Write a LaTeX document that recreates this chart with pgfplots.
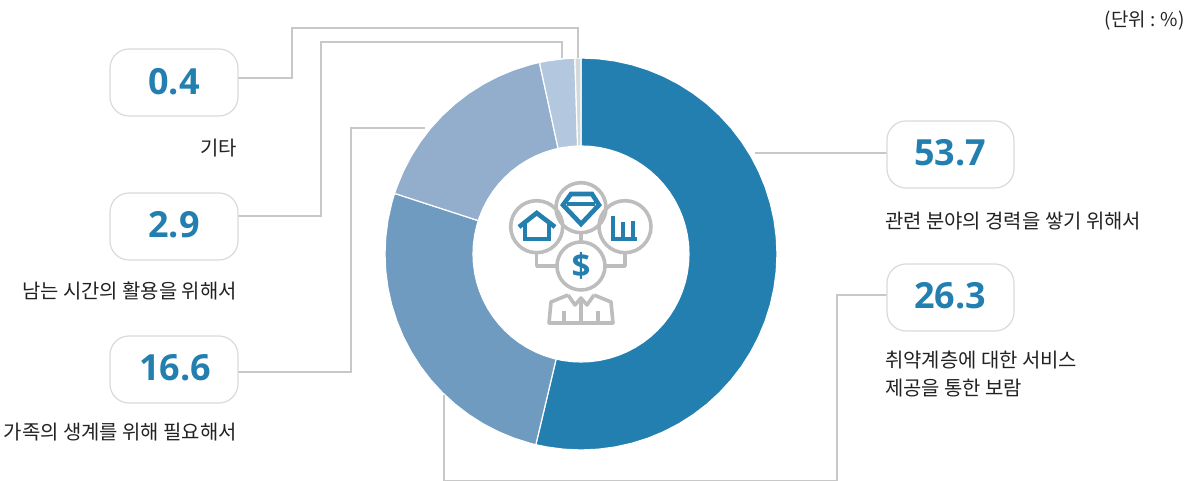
\documentclass[border=0pt]{standalone}
\usepackage{pgfplots}
\pgfplotsset{compat=1.18}
\usepackage{fontspec}
\setmainfont{Noto Sans CJK KR}
\newfontfamily\numfont{Open Sans}
\definecolor{c1}{HTML}{237FB0}
\definecolor{c2}{HTML}{6F9BC1}
\definecolor{c3}{HTML}{92AECC}
\definecolor{c4}{HTML}{B3C7DE}
\definecolor{c5}{HTML}{D5D8D8}
\definecolor{leader}{HTML}{C8C8C8}
\definecolor{boxline}{HTML}{DADADA}
\definecolor{icong}{HTML}{BDBDBD}
\definecolor{txt}{HTML}{222222}
\newcommand{\lab}[1]{{\fontsize{19.9bp}{28bp}\selectfont\color{txt}#1}}
\newcommand{\val}[1]{{\numfont\bfseries\fontsize{36bp}{40bp}\selectfont\color{c1}#1}}
\begin{document}
\begin{tikzpicture}[x=1bp,y=1bp]
\useasboundingbox (0,0) rectangle (1195,481);
\begin{axis}[at={(0,0)},anchor=south west,scale only axis,width=1195bp,height=481bp,
  xmin=-581,xmax=614,ymin=-227,ymax=254,hide axis,clip=false]
% Donut: angle (deg), radius. Shares 53.7, 26.3, 16.6, 2.9, 0.4 clockwise from the top.
\addplot[data cs=polar,fill=c1,draw=white,line width=1.2bp] coordinates {
(90,196)(85,196)(80,196)(75,196)(70,196)(65,196)(60,196)(55,196)(50,196)(45,196)(40,196)(35,196)(30,196)(25,196)(20,196)(15,196)(10,196)(5,196)(0,196)
(-5,196)(-10,196)(-15,196)(-20,196)(-25,196)(-30,196)(-35,196)(-40,196)(-45,196)(-50,196)(-55,196)(-60,196)(-65,196)(-70,196)(-75,196)(-80,196)(-85,196)(-90,196)(-95,196)(-100,196)(-103.32,196)
(-103.32,108)(-100,108)(-95,108)(-90,108)(-85,108)(-80,108)(-75,108)(-70,108)(-65,108)(-60,108)(-55,108)(-50,108)(-45,108)(-40,108)(-35,108)(-30,108)(-25,108)(-20,108)(-15,108)(-10,108)(-5,108)
(0,108)(5,108)(10,108)(15,108)(20,108)(25,108)(30,108)(35,108)(40,108)(45,108)(50,108)(55,108)(60,108)(65,108)(70,108)(75,108)(80,108)(85,108)(90,108)
} -- cycle;
\addplot[data cs=polar,fill=c2,draw=white,line width=1.2bp] coordinates {
(-103.32,196)(-105,196)(-110,196)(-115,196)(-120,196)(-125,196)(-130,196)(-135,196)(-140,196)(-145,196)(-150,196)(-155,196)(-160,196)(-165,196)(-170,196)(-175,196)(-180,196)(-185,196)(-190,196)(-195,196)(-198,196)
(-198,108)(-195,108)(-190,108)(-185,108)(-180,108)(-175,108)(-170,108)(-165,108)(-160,108)(-155,108)(-150,108)(-145,108)(-140,108)(-135,108)(-130,108)(-125,108)(-120,108)(-115,108)(-110,108)(-105,108)(-103.32,108)
} -- cycle;
\addplot[data cs=polar,fill=c3,draw=white,line width=1.2bp] coordinates {
(-198,196)(-200,196)(-205,196)(-210,196)(-215,196)(-220,196)(-225,196)(-230,196)(-235,196)(-240,196)(-245,196)(-250,196)(-255,196)(-257.76,196)
(-257.76,108)(-255,108)(-250,108)(-245,108)(-240,108)(-235,108)(-230,108)(-225,108)(-220,108)(-215,108)(-210,108)(-205,108)(-200,108)(-198,108)
} -- cycle;
\addplot[data cs=polar,fill=c4,draw=white,line width=1.2bp] coordinates {
(-257.76,196)(-260,196)(-265,196)(-268.2,196)
(-268.2,108)(-265,108)(-260,108)(-257.76,108)
} -- cycle;
\addplot[data cs=polar,fill=c5,draw=white,line width=1.2bp] coordinates {
(-268.2,196)(-270,196)
(-270,108)(-268.2,108)
} -- cycle;
% Leader lines
\addplot[leader,line width=1.4bp] coordinates {(-343,176)(-289,176)(-289,226)(-3,226)(-3,196)};
\addplot[leader,line width=1.4bp] coordinates {(-343,38)(-260,38)(-260,212)(-19,212)(-19,196)};
\addplot[leader,line width=1.4bp] coordinates {(-343,-118)(-230,-118)(-230,126)(-156,126)};
\addplot[leader,line width=1.4bp] coordinates {(174,101)(306,101)};
\addplot[leader,line width=1.4bp] coordinates {(306,-41)(256,-41)(256,-226.3)(-137,-226.3)(-137,-141)};
% Value boxes
\draw[boxline,line width=1.2bp,rounded corners=19bp,fill=white] (-471,205) rectangle (-343,138);
\draw[boxline,line width=1.2bp,rounded corners=19bp,fill=white] (-471,61) rectangle (-343,-6);
\draw[boxline,line width=1.2bp,rounded corners=19bp,fill=white] (-471,-82) rectangle (-343,-149);
\draw[boxline,line width=1.2bp,rounded corners=19bp,fill=white] (306,133) rectangle (433,66);
\draw[boxline,line width=1.2bp,rounded corners=19bp,fill=white] (306,-10) rectangle (433,-77);
\node at (-407,172) {\val{0.4}};
\node at (-407,29) {\val{2.9}};
\node at (-406,-114) {\val{16.6}};
\node at (369,101) {\val{53.7}};
\node at (369,-42) {\val{26.3}};
% Labels
\node[anchor=east,inner sep=0pt] at (-344,106) {\lab{기타}};
\node[anchor=east,inner sep=0pt] at (-344,-37) {\lab{남는 시간의 활용을 위해서}};
\node[anchor=east,inner sep=0pt] at (-344,-178) {\lab{가족의 생계를 위해 필요해서}};
\node[anchor=west,inner sep=0pt] at (304,33) {\lab{관련 분야의 경력을 쌓기 위해서}};
\node[anchor=west,inner sep=0pt] at (304,-106) {\lab{취약계층에 대한 서비스}};
\node[anchor=west,inner sep=0pt] at (304,-134) {\lab{제공을 통한 보람}};
\node[anchor=east,inner sep=0pt] at (604,233) {{\fontsize{18.9bp}{22bp}\selectfont\color{txt}(단위 : \%)}};
% Centre icon
\begin{scope}[line width=3.6bp,icong,line join=round]
\draw (0,46.3) circle[radius=25];
\draw (-44.3,27.3) circle[radius=26];
\draw (44,27.3) circle[radius=26];
\draw (0,-12) circle[radius=24];
\draw (0,21.3) -- (0,12);
\draw (-44.3,1.3) -- (-44.3,-12) -- (-24,-12);
\draw (44,1.3) -- (44,-12) -- (24,-12);
\draw (-13,-41) -- (-30,-48) -- (-32,-69) -- (32,-69) -- (30,-48) -- (13,-41);
\draw (-13,-41) -- (-6,-51) -- (0,-44) -- (6,-51) -- (13,-41);
\draw (0,-44) -- (0,-69);
\draw (-17,-57) -- (-17,-69);
\draw (17,-57) -- (17,-69);
\end{scope}
\begin{scope}[line width=4.6bp,c1,line join=miter]
\draw (-10,60) -- (11,60) -- (18,49) -- (0,30) -- (-18,49) -- cycle;
\draw (-14,50) -- (14,50);
\draw (-62,27) -- (-44.3,41) -- (-26,27);
\draw (-56,31) -- (-56,15) -- (-32,15) -- (-32,31);
\draw (32,38) -- (32,15) -- (56,15);
\draw (42,32) -- (42,15);
\draw (52,33) -- (52,15);
\end{scope}
\node[c1,inner sep=0pt] at (0,-12) {{\numfont\bfseries\fontsize{33bp}{35bp}\selectfont\$}};
\end{axis}
\end{tikzpicture}
\end{document}
